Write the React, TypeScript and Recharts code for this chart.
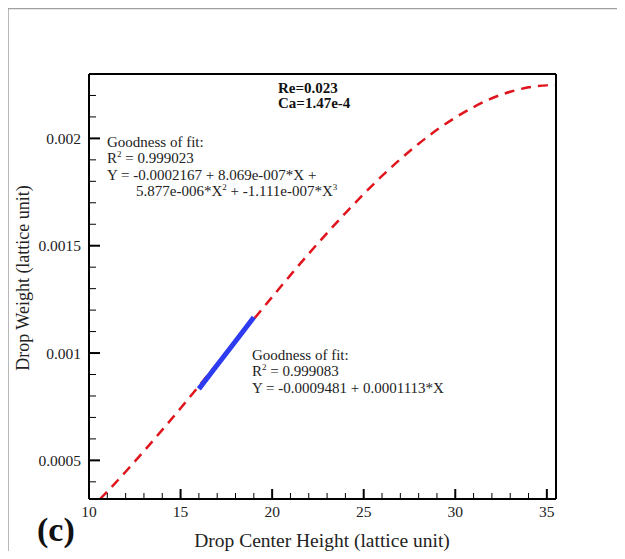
import { ComposedChart, Line, XAxis, YAxis } from 'recharts';

// cubic fit curve (red dashed)
const curveX = [10.6, 11, 12, 13, 14, 15, 16, 17, 18, 19, 20, 21, 22, 23, 24, 25, 26, 27, 28, 29, 30, 31, 32, 33, 34, 35, 35.5];
const curveY = [
  0.00032, 0.000355, 0.000447, 0.000543, 0.000642, 0.000743, 0.000846, 0.00095, 0.001054,
  0.001158, 0.001261, 0.001363, 0.001463, 0.001559, 0.001652, 0.001741, 0.001825, 0.001903,
  0.001975, 0.00204, 0.002097, 0.002146, 0.002187, 0.002217, 0.002238, 0.002247, 0.002248,
];

// linear fit segment (blue)
const lineX = [16, 17, 18, 19];
const lineY = [0.000833, 0.000944, 0.001055, 0.001167];

const xTicks = [10, 11, 12, 13, 14, 15, 16, 17, 18, 19, 20, 21, 22, 23, 24, 25, 26, 27, 28, 29, 30, 31, 32, 33, 34, 35];
const xMajor = [10, 15, 20, 25, 30, 35];
const yTicks = [
  0.0004, 0.0005, 0.0006, 0.0007, 0.0008, 0.0009, 0.001, 0.0011, 0.0012, 0.0013,
  0.0014, 0.0015, 0.0016, 0.0017, 0.0018, 0.0019, 0.002, 0.0021, 0.0022,
];
const yMajor = [0.0005, 0.001, 0.0015, 0.002];

const curveData = curveX.map((x, i) => ({ x, y: curveY[i] }));
const lineData = lineX.map((x, i) => ({ x, y: lineY[i] }));

const FONT = '"Liberation Serif", "Times New Roman", serif';
const GAP = 8;

const isMajor = (list: number[], v: number) => list.some(m => Math.abs(m - v) < 1e-9);

const YTick = (props: any) => {
  const { x, y, payload } = props;
  const major = isMajor(yMajor, payload.value);
  const ax = x + GAP;
  return (
    <g>
      <line x1={ax} x2={ax + (major ? 11 : 7)} y1={y} y2={y} stroke="#000" strokeWidth={major ? 2 : 1} />
      {major && (
        <text x={x} y={y} textAnchor="end" dominantBaseline="central" style={{ fontFamily: FONT }} fontSize={15.5} fill="#222">
          {String(payload.value)}
        </text>
      )}
    </g>
  );
};

const XTick = (props: any) => {
  const { x, y, payload } = props;
  const major = isMajor(xMajor, payload.value);
  const ay = y - GAP;
  return (
    <g>
      <line x1={x} x2={x} y1={ay} y2={ay - (major ? 10 : 6)} stroke="#000" strokeWidth={major ? 2 : 1} />
      {major && (
        <text x={x} y={ay + 18} textAnchor="middle" style={{ fontFamily: FONT }} fontSize={15.5} fill="#222">
          {String(payload.value)}
        </text>
      )}
    </g>
  );
};

const txt = { style: { fontFamily: FONT }, fontSize: 15, fill: '#222' };

export default function App() {
  return (
    <div style={{ position: 'relative', width: 625, height: 559, margin: -8 }}>
      <ComposedChart width={625} height={559} margin={{ top: 73, right: 68, bottom: 20, left: 29 }}>
        <XAxis
          dataKey="x" type="number" domain={[10, 35.5]} allowDataOverflow
          ticks={xTicks} interval={0} tick={<XTick />} tickLine={false} tickSize={0} tickMargin={GAP}
          height={40} axisLine={{ stroke: '#000', strokeWidth: 2 }}
        />
        <XAxis
          xAxisId="top" orientation="top" type="number" domain={[10, 35.5]} allowDataOverflow
          tick={false} tickLine={false} height={1} axisLine={{ stroke: '#000', strokeWidth: 2 }}
        />
        <YAxis
          type="number" domain={[0.00032, 0.0023]} allowDataOverflow
          ticks={yTicks} interval={0} tick={<YTick />} tickLine={false} tickSize={0} tickMargin={GAP}
          width={60} axisLine={{ stroke: '#000', strokeWidth: 2 }}
        />
        <YAxis
          yAxisId="right" orientation="right" type="number" domain={[0.00032, 0.0023]} allowDataOverflow
          tick={false} tickLine={false} width={1} axisLine={{ stroke: '#000', strokeWidth: 2 }}
        />
        <Line
          data={curveData} dataKey="y" type="monotone" stroke="#e0141c" strokeWidth={2.5}
          strokeDasharray="10 7" dot={false} activeDot={false} isAnimationActive={false}
        />
        <Line
          data={lineData} dataKey="y" type="linear" stroke="#2d3cf0" strokeWidth={5}
          dot={false} activeDot={false} isAnimationActive={false}
        />
      </ComposedChart>
      <svg width={625} height={559} style={{ position: 'absolute', left: 0, top: 0, pointerEvents: 'none' }}>
        <line x1={8} y1={8.5} x2={625} y2={8.5} stroke="#a0a0a0" strokeWidth={1.5} />
        <line x1={8} y1={8} x2={8} y2={559} stroke="#a0a0a0" strokeWidth={1.5} />

        <text x={278} y={93} style={{ fontFamily: FONT }} fontSize={15} fontWeight="bold" fill="#111">Re=0.023</text>
        <text x={278} y={108} style={{ fontFamily: FONT }} fontSize={15} fontWeight="bold" fill="#111">Ca=1.47e-4</text>

        <text x={107} y={147} {...txt}>Goodness of fit:</text>
        <text x={107} y={163} {...txt}>R<tspan fontSize={9} dy={-6}>2</tspan><tspan dy={6}> = 0.999023</tspan></text>
        <text x={107} y={180} {...txt}>Y = -0.0002167 + 8.069e-007*X +</text>
        <text x={136} y={196} {...txt}>
          5.877e-006*X<tspan fontSize={9} dy={-6}>2</tspan><tspan dy={6}> + -1.111e-007*X</tspan><tspan fontSize={9} dy={-6}>3</tspan>
        </text>

        <text x={252} y={360} {...txt}>Goodness of fit:</text>
        <text x={252} y={376} {...txt}>R<tspan fontSize={9} dy={-6}>2</tspan><tspan dy={6}> = 0.999083</tspan></text>
        <text x={252} y={393} {...txt}>Y = -0.0009481 + 0.0001113*X</text>

        <text x={37} y={541} style={{ fontFamily: FONT }} fontSize={34} fontWeight="bold" fill="#111">(c)</text>
        <text x={322} y={547} textAnchor="middle" style={{ fontFamily: FONT }} fontSize={19.5} fill="#222">
          Drop Center Height (lattice unit)
        </text>
        <text
          x={23} y={278} textAnchor="middle" dominantBaseline="central" transform="rotate(-90 23 278)"
          style={{ fontFamily: FONT }} fontSize={18} fill="#222"
        >
          Drop Weight (lattice unit)
        </text>
      </svg>
    </div>
  );
}
